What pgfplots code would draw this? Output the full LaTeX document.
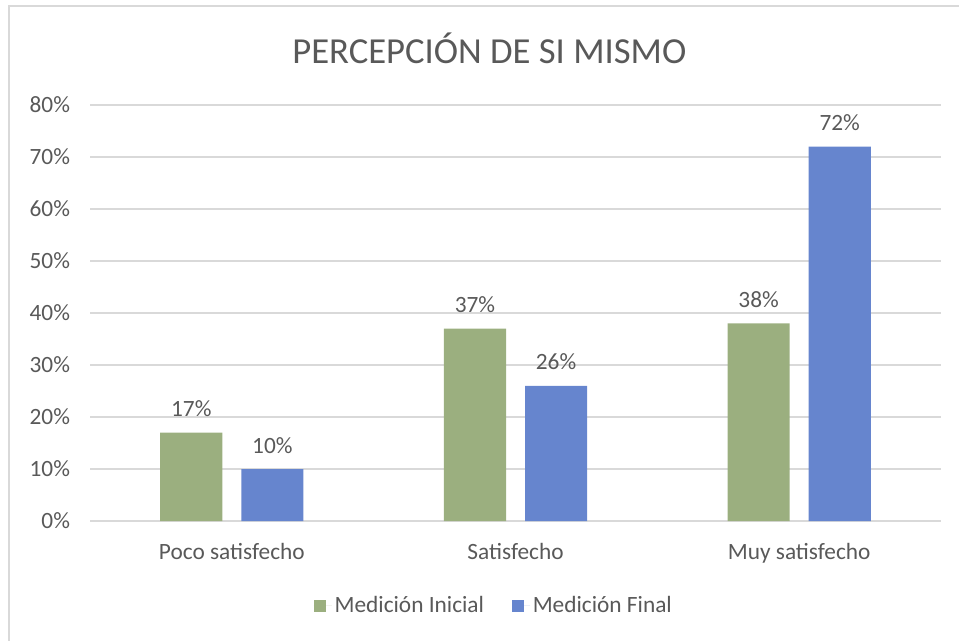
\documentclass[border=0pt]{standalone}
\usepackage{pgfplots}
\pgfplotsset{compat=1.18}
\usepackage{fontspec}
\setmainfont{Carlito}
\definecolor{ginit}{RGB}{155,175,127}
\definecolor{bfin}{RGB}{102,133,206}
\definecolor{txt}{RGB}{89,89,89}
\definecolor{grd}{RGB}{217,217,217}
\begin{document}
\begin{tikzpicture}
\useasboundingbox (0,0) rectangle (719.25pt,-480.75pt);
\draw[grd, line width=1.6pt] (6.5pt,-481pt) -- (6.5pt,-4.8pt) -- (720pt,-4.8pt);
\node[txt, font=\fontsize{27.5}{32}\selectfont] at (367pt,-36pt) {PERCEPCIÓN DE SI MISMO};
\begin{axis}[
  at={(67.5pt,-390.75pt)}, anchor=south west,
  scale only axis, width=638.25pt, height=312pt,
  xmin=-0.5, xmax=2.5, ymin=0, ymax=80,
  xtick={0,1,2}, xticklabels={Poco satisfecho,Satisfecho,Muy satisfecho},
  ytick={0,10,...,80},
  yticklabel={\pgfmathprintnumber{\tick}\%},
  /pgf/number format/assume math mode=true,
  axis line style={draw=none},
  major tick length=0pt,
  ymajorgrids, grid style={grd, line width=0.9pt},
  tick label style={txt, font=\fontsize{17.5}{21}\selectfont},
  yticklabel style={xshift=-11.5pt},
  xticklabel style={yshift=-13.5pt},
  ybar, bar width=0.219,
  nodes near coords={\pgfmathprintnumber{\pgfplotspointmeta}\%},
  nodes near coords style={txt, font=\fontsize{17.5}{21}\selectfont, anchor=south, yshift=8.2pt},
  legend style={at={(0.475,-0.204)}, anchor=center, draw=none, legend columns=2,
    font=\fontsize{17.5}{21}\selectfont, text=txt,
    /tikz/every even column/.append style={column sep=19pt}},
  legend image code/.code={\fill[#1] (0pt,-4.5pt) rectangle (9pt,4.5pt); \path (0pt,0pt) -- (13.5pt,0pt);},
]
\addplot[fill=ginit, draw=none, bar shift=-0.143] coordinates {(0,17) (1,37) (2,38)};
\addplot[fill=bfin, draw=none, bar shift=0.143] coordinates {(0,10) (1,26) (2,72)};
\legend{Medición Inicial, Medición Final}
\end{axis}
\end{tikzpicture}
\end{document}
